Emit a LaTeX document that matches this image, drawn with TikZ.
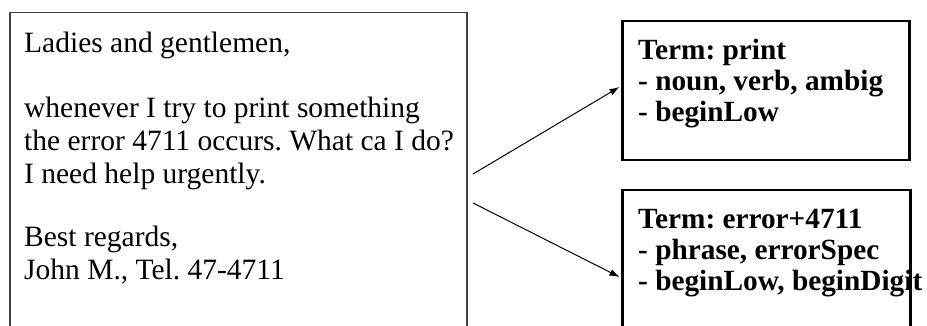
\documentclass[tikz,border=0pt]{standalone}
\usepackage{fontspec}
\setmainfont{Liberation Serif}
\frenchspacing
\usetikzlibrary{arrows.meta}
\tikzset{
  mailbox/.style={draw=black!75, line width=1.5pt, rectangle, inner sep=0pt, anchor=north west},
  termbox/.style={draw=black, line width=2.5pt, rectangle, inner sep=0pt, anchor=north west},
  mailline/.style={anchor=base west, inner sep=0pt, font=\fontsize{29.5}{32.5}\selectfont\frenchspacing},
  termline/.style={anchor=base west, inner sep=0pt, font=\fontsize{29.3}{32.5}\selectfont\bfseries\frenchspacing},
  link/.style={line width=1pt, -{Latex[length=10pt,width=7pt]}}
}
\begin{document}
\begin{tikzpicture}[x=1pt,y=1pt]
\clip (0,0) rectangle (927,-326);
\fill[white] (0,0) rectangle (927,-326);
% left mail box
\node[mailbox, minimum width=457pt, minimum height=340pt] (mail) at (9,-12) {};
\node[mailline] (m1) at (24,-53) {Ladies and gentlemen,};
\node[mailline] (m2) at (24,-118) {whenever I try to print something};
\node[mailline] (m3) at (24,-150.5) {the error 4711 occurs. What ca I do?};
\node[mailline] (m4) at (24,-183) {I need help urgently.};
\node[mailline] (m5) at (24,-247) {Best regards,};
\node[mailline] (m6) at (24,-279.5) {John M., Tel. 47-4711};
% term boxes
\node[termbox, minimum width=287pt, minimum height=139pt] (t1) at (621,-20) {};
\node[termline] (t1a) at (638,-60) {Term: print};
\node[termline] (t1b) at (638,-91) {- noun, verb, ambig};
\node[termline] (t1c) at (638,-122) {- beginLow};
\node[termbox, minimum width=288pt, minimum height=160pt] (t2) at (621,-189) {};
\node[termline] (t2a) at (638,-228) {Term: error+4711};
\node[termline] (t2b) at (638,-259) {- phrase, errorSpec};
\node[termline] (t2c) at (638,-290) {- beginLow, beginDigit};
% arrows
\coordinate (s1) at (473,-174);
\coordinate (s2) at (473,-203);
\draw[link] (s1) -- ([xshift=-1.5pt,yshift=-67pt]t1.north west);
\draw[link] (s2) -- ([xshift=-1.5pt,yshift=-88pt]t2.north west);
\end{tikzpicture}
\end{document}
